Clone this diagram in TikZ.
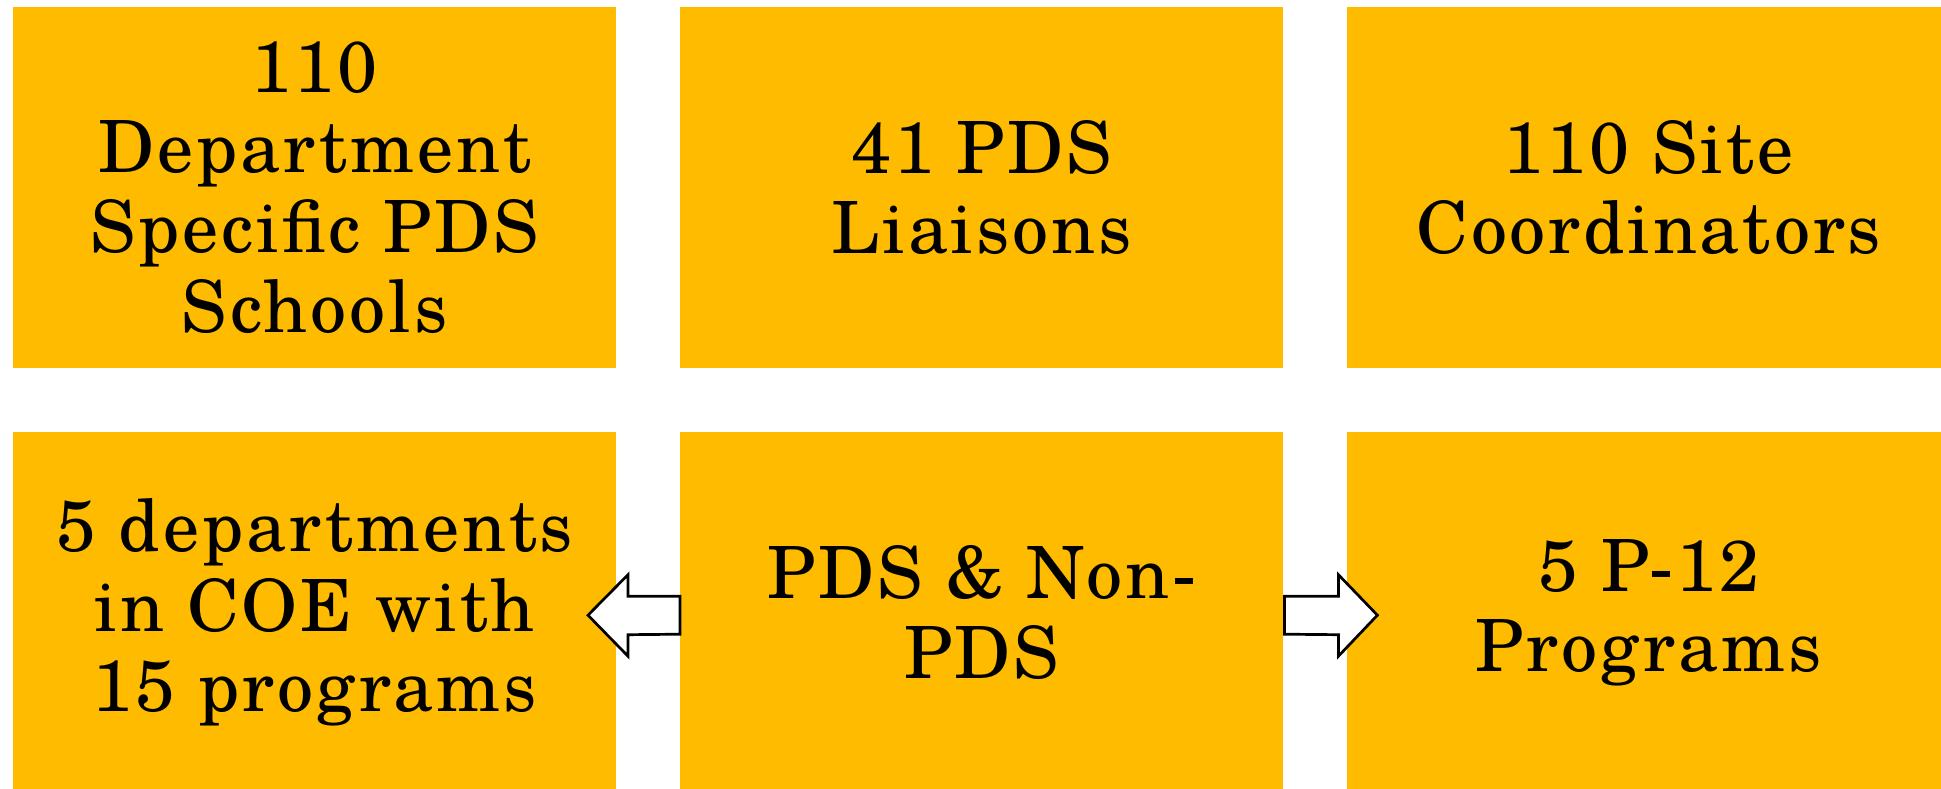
\documentclass[tikz,border=0pt]{standalone}
\usepackage{fontspec}
\setmainfont[LetterSpace=4]{TeX Gyre Schola}
\usetikzlibrary{calc}
\definecolor{boxgold}{RGB}{255,187,0}
\tikzset{
  goldbox/.style={rectangle, fill=boxgold, draw=none, inner sep=0pt,
    minimum width=603pt, minimum height=361pt, anchor=north west,
    align=center, font=\fontsize{72}{80}\selectfont},
  blockarrow/.style={fill=white, draw=black, line width=2.7pt, line join=miter}
}
\begin{document}
\begin{tikzpicture}[x=1pt,y=-1pt]
\clip (0,0) rectangle (1941,789);
\fill[white] (0,0) rectangle (1941,789);
\node[goldbox] (b1) at (13,7) {110\\Department\\Specific PDS\\Schools};
\node[goldbox] (b2) at (680,7) {41 PDS\\Liaisons};
\node[goldbox] (b3) at (1347,7) {110 Site\\Coordinators};
\node[goldbox] (b4) at (13,432) {5 departments\\in COE with\\15 programs};
\node[goldbox] (b5) at (680,432) {PDS \& Non-\\PDS};
\node[goldbox] (b6) at (1347,432) {5 P-12\\Programs};
% left block arrow (from b5 towards b4)
\draw[blockarrow] ($(b5.west)+(0,-16.5)$) -- ++(-52,0) -- ++(0,-21.5)
  -- ($(b5.west)+(-92,2.5)$) -- ($(b5.west)+(-52,43.5)$) -- ++(0,-21.5)
  -- ($(b5.west)+(0,21.5)$) -- cycle;
% right block arrow (from b5 towards b6)
\draw[blockarrow] ($(b5.east)+(1,-16.5)$) -- ++(54,0) -- ++(0,-21.5)
  -- ($(b5.east)+(94,2.5)$) -- ($(b5.east)+(55,43.5)$) -- ++(0,-21.5)
  -- ($(b5.east)+(1,21.5)$) -- cycle;
\end{tikzpicture}
\end{document}
